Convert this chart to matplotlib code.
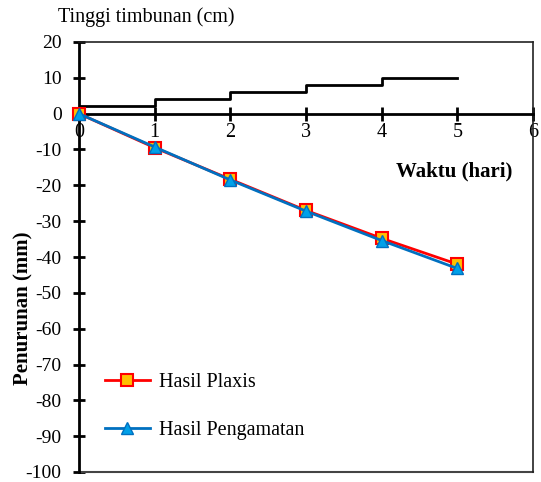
import matplotlib
matplotlib.use("Agg")
import matplotlib.pyplot as plt

# Data
days = [0, 1, 2, 3, 4, 5]
plaxis = [0, -9.5, -18.3, -27.0, -34.8, -42.0]
pengamatan = [0, -9.3, -18.5, -27.2, -35.4, -43.2]
fill_days = [0, 1, 2, 3, 4, 5]
fill_height = [2, 4, 6, 8, 10, 10]

x_ticks = [0, 1, 2, 3, 4, 5, 6]
y_ticks = [20, 10, 0, -10, -20, -30, -40, -50, -60, -70, -80, -90, -100]

plt.rcParams['font.family'] = ['Liberation Serif', 'DejaVu Serif']

fig = plt.figure(figsize=(5.41, 4.82), dpi=100)
ax = fig.add_axes([79/541, 1-472/482, (533-79)/541, (472-42)/482])

ax.step(fill_days, fill_height, where='post', color='black', lw=2, zorder=3)
ax.plot(days, plaxis, color='#FF0000', lw=2, marker='s', ms=8.5,
        mfc='#FFC000', mec='#FF0000', mew=1.5, label='Hasil Plaxis', zorder=4, clip_on=False)
ax.plot(days, pengamatan, color='#0070C0', lw=2, marker='^', ms=8.5,
        mfc='#00A0E8', mec='#0070C0', mew=1, label='Hasil Pengamatan', zorder=5, clip_on=False)

ax.set_xlim(0, 6)
ax.set_ylim(-100, 20)
ax.set_xticks(x_ticks)
ax.set_yticks(y_ticks)
ax.set_yticklabels([str(v) for v in y_ticks])

ax.spines['bottom'].set_position(('data', 0))
ax.spines['bottom'].set_linewidth(2)
ax.spines['left'].set_linewidth(2)
ax.spines['top'].set_linewidth(1.2)
ax.spines['right'].set_linewidth(1.2)
ax.spines['top'].set_color('#222222')
ax.spines['right'].set_color('#222222')
ax.plot([0, 1], [0, 0], transform=ax.transAxes, color='#444444', lw=1.5, clip_on=False)

ax.tick_params(axis='x', direction='inout', length=10, width=2, labelsize=14.5, pad=2)
ax.tick_params(axis='y', direction='inout', length=9, width=2, labelsize=14, pad=8)

ax.set_ylabel('Penurunan (mm)', fontsize=15, fontweight='bold')
ax.yaxis.set_label_coords(-0.101, 0.38)

ax.text(0.826, 0.698, 'Waktu (hari)', transform=ax.transAxes, fontsize=15,
        fontweight='bold', ha='center', va='center')
fig.text(58/541, 1-17/482, 'Tinggi timbunan (cm)', fontsize=14.5, ha='left', va='center')

ax.legend(loc='upper left', bbox_to_anchor=(0.04, 0.25), frameon=False, fontsize=14.5,
          handlelength=2.2, labelspacing=1.45, handletextpad=0.45, borderaxespad=0)

fig.savefig('out.png', dpi=100)
